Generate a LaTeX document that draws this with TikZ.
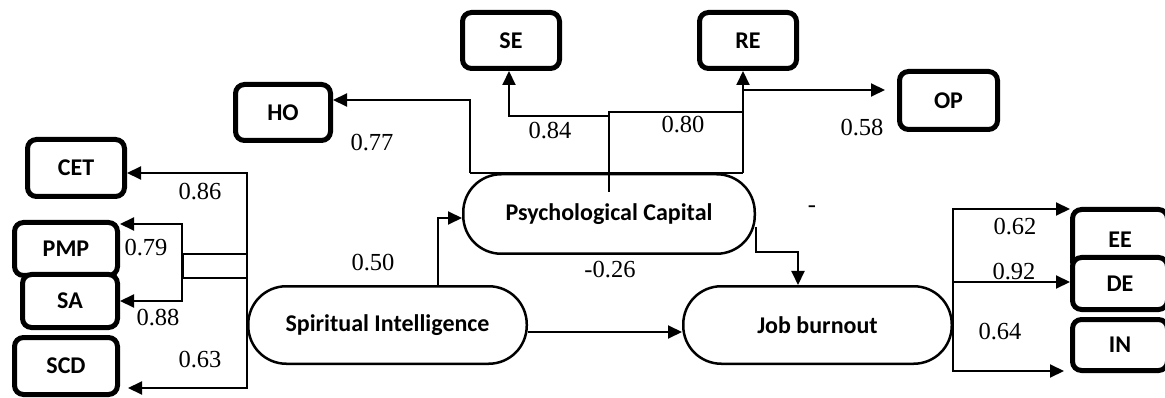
\documentclass[tikz,border=0pt]{standalone}
\usepackage{fontspec}
\setmainfont{Liberation Serif}
\newfontfamily\carl{Carlito}
\usetikzlibrary{arrows.meta}
\begin{document}
\begin{tikzpicture}[x=1pt,y=-1pt,
  ln/.style={line width=2pt},
  arr/.style={ln,-{Triangle[length=14pt,width=13pt]}},
  ind/.style={draw,line width=5pt,rounded corners=9pt,fill=white,
    font=\carl\bfseries\fontsize{24}{28}\selectfont,inner sep=0pt},
  lat/.style={draw,line width=2.5pt,rounded corners=38pt,fill=white,
    font=\carl\bfseries\fontsize{24}{28}\selectfont,inner sep=0pt},
  val/.style={font=\fontsize{24.5}{28}\selectfont,inner sep=0pt}]
\useasboundingbox (0,0) rectangle (1165,398);
% indicator boxes
\node[ind,minimum width=97,minimum height=56] (SE) at (511,40.5) {SE};
\node[ind,minimum width=97,minimum height=56] (RE) at (748,40.5) {RE};
\node[ind,minimum width=95,minimum height=56] (HO) at (283,112.5) {HO};
\node[ind,minimum width=98,minimum height=58] (OP) at (948.5,100.5) {OP};
\node[ind,minimum width=97,minimum height=57] (CET) at (76,168) {CET};
\node[ind,minimum width=103,minimum height=53] (PMP) at (66,249) {PMP};
\node[ind,minimum width=95,minimum height=53] (SA) at (70,301) {SA};
\node[ind,minimum width=103,minimum height=57] (SCD) at (66,366) {SCD};
\node[ind,minimum width=95,minimum height=61] (EE) at (1120,240) {EE};
\node[ind,minimum width=95,minimum height=52] (DE) at (1120,283.5) {DE};
\node[ind,minimum width=95,minimum height=51] (IN) at (1120,345) {IN};
% latent variables
\node[lat,minimum width=291.5,minimum height=79.5] (PC) at (609,214) {Psychological Capital};
\node[lat,minimum width=278.5,minimum height=77.5] (SI) at (387.5,325) {Spiritual Intelligence};
\node[lat,minimum width=268.5,minimum height=77.5] (JB) at (817.5,325) {Job burnout};
% structural paths
\draw[arr] (SI.north -| 438,0) |- ([yshift=-4pt]PC.west);
\draw[arr] ([yshift=-7pt]SI.east) -- ([yshift=-7pt]JB.west);
\draw[arr] ([yshift=-13pt]PC.east) |- (798,252) -- (JB.north -| 798,0);
% psychological capital indicators
\coordinate (opb) at (743,90);
\draw[ln] (PC.north -| 470,0) -- (PC.north -| opb);
\draw[arr] (PC.north -| 470,0) |- ([yshift=12.5pt]HO.east);
\draw[arr] (PC.north -| opb) -- (RE.south -| opb);
\draw[arr,shorten >=12pt] (opb) -- ([yshift=10.5pt]OP.west);
\draw[ln] ([yshift=22pt]PC.center) |- (opb |- 0,112);
\draw[arr] (PC.center |- 0,116) -| (SE.south -| 509,0);
% spiritual intelligence indicators
\draw[arr] (SI.west) |- (CET.east |- 0,173);
\draw[arr,shorten >=8pt] (SI.west) |- (SCD.east |- 0,388);
\draw[ln] (SI.west |- 0,254) -| (183,278) -- (SI.west |- 0,278);
\draw[arr] (182,262) |- ([yshift=25pt]PMP.east);
\draw[arr] (182,262) |- (SA.east);
% job burnout indicators
\draw[arr] (JB.east) |- ([yshift=-2pt]EE.north west);
\draw[arr] (JB.east) |- ([yshift=1.5pt]DE.west);
\draw[arr,shorten >=6pt] (JB.east) |- ([yshift=2pt]IN.south west);
% values
\node[val] (v77) at (372,143) {0.77};
\node[val] (v84) at (550,131) {0.84};
\node[val] (v80) at (683,125) {0.80};
\node[val] (v58) at (862,128) {0.58};
\node[val] (v86) at (200,192) {0.86};
\node[val] (v79) at (146,248) {0.79};
\node[val] (v88) at (158,318) {0.88};
\node[val] (v63) at (200,360) {0.63};
\node[val] (v50) at (373,263) {0.50};
\node[val] (v26) at (610,270) {-0.26};
\node[val] (vdash) at (812,209) {-};
\node[val] (v62) at (1015,227) {0.62};
\node[val] (v92) at (1014,272) {0.92};
\node[val] (v64) at (1000,332) {0.64};
\end{tikzpicture}
\end{document}
